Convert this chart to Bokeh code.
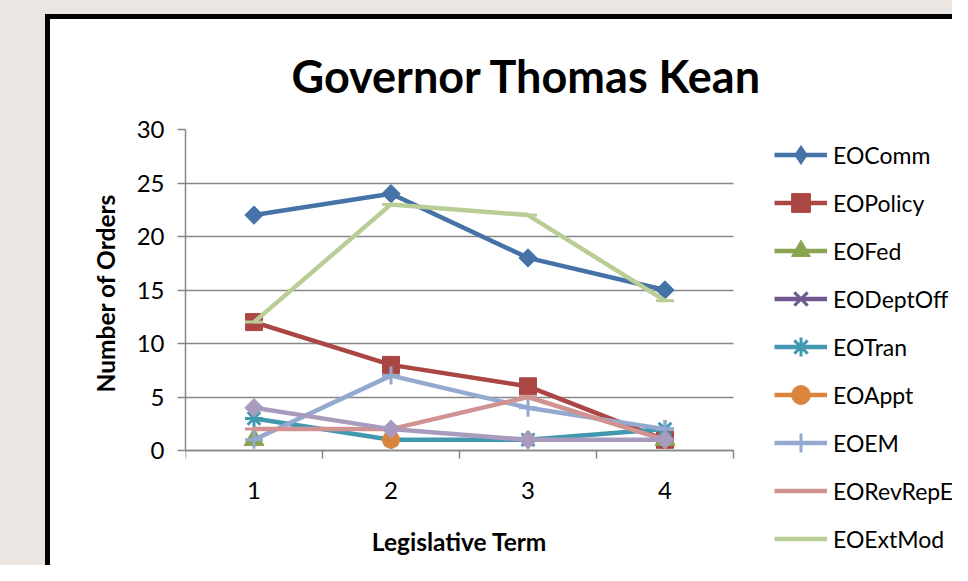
import math
from bokeh.plotting import figure
from bokeh.layouts import column, row
from bokeh.models import FixedTicker, Legend, LegendItem, Range1d, Spacer, Title
from bokeh.embed import file_html
from bokeh.resources import INLINE

nan = float("nan")

# ---- data ----
terms = [1, 2, 3, 4]
term_labels = ["1", "2", "3", "4"]
y_ticks = [0, 5, 10, 15, 20, 25, 30]

eo_comm = [22, 24, 18, 15]
eo_policy = [12, 8, 6, 1]
eo_fed = [1, nan, nan, 1]
eo_deptoff = [nan, nan, nan, nan]
eo_tran = [3, 1, 1, 2]
eo_appt = [nan, 1, nan, nan]
eo_em = [1, 7, 4, 2]
eo_revrepe = [2, 2, 5, 1]
eo_extmod = [12, 23, 22, 14]
eo_series10 = [4, 2, 1, 1]   # 10th series, its legend entry is cut off

series_names = ["EOComm", "EOPolicy", "EOFed", "EODeptOff", "EOTran",
                "EOAppt", "EOEM", "EORevRepE", "EOExtMod", None]
series_values = [eo_comm, eo_policy, eo_fed, eo_deptoff, eo_tran,
                 eo_appt, eo_em, eo_revrepe, eo_extmod, eo_series10]

# ---- styles ----
colors = ["#4572A7", "#AA4643", "#89A54E", "#71588F", "#4198AF",
          "#DB843D", "#93A9CF", "#D19392", "#B9CD96", "#A99BBD"]
markers = ["square", "square", "triangle", "x", "asterisk",
           "circle", "cross", "dash", "dash", "square"]
legend_markers = ["diamond", "square", "triangle", "x", "asterisk",
                  "circle", "cross", "dash", "dash", "diamond"]
msizes = [13, 17, 20, 17, 18, 17, 18, 18, 18, 13]
angles = [math.pi / 4, 0, 0, 0, 0, 0, 0, 0, 0, math.pi / 4]

FONT = "Lato"
GRID = "#878787"
BEIGE = "#ece6e2"

# canvas geometry (pixels): plot area 548 x 321, axis at bottom of it
W, H = 902, 546
LEFT, TOP = 135, 110
PLOT_W, PLOT_H = 548, 321
x_lo, x_hi = 0.5, 4.5
y_lo, y_hi = 0, 30
px_x = PLOT_W / (x_hi - x_lo)
px_y = PLOT_H / (y_hi - y_lo)
frame_w = W - LEFT
frame_h = H - TOP

fig = figure(width=W, height=H, output_backend="svg", toolbar_location=None,
             x_range=Range1d(x_lo, x_lo + frame_w / px_x),
             y_range=Range1d(y_hi - frame_h / px_y, y_hi),
             min_border_left=LEFT, min_border_right=0,
             min_border_top=TOP, min_border_bottom=0)
fig.border_fill_color = "white"
fig.background_fill_color = "white"
fig.outline_line_color = None

fig.title.text = "Governor Thomas Kean"
fig.title.text_font = FONT
fig.title.text_font_size = "45px"
fig.title.text_font_style = "bold"
fig.title.text_color = "black"
fig.title.align = "left"
fig.title.offset = 106
fig.title.standoff = 54

# grids
fig.xgrid.visible = False
fig.ygrid.ticker = FixedTicker(ticks=y_ticks)
fig.ygrid.grid_line_color = GRID
fig.ygrid.grid_line_width = 1.5
if hasattr(fig.ygrid[0], "cross_bounds"):
    fig.ygrid.cross_bounds = (x_lo, x_hi)

# y axis
fig.yaxis.ticker = FixedTicker(ticks=y_ticks)
fig.yaxis.bounds = (y_lo, y_hi)
fig.yaxis.axis_line_color = GRID
fig.yaxis.axis_line_width = 1.5
fig.yaxis.major_tick_line_color = GRID
fig.yaxis.major_tick_line_width = 1.5
fig.yaxis.major_tick_out = 8
fig.yaxis.major_tick_in = 0
fig.yaxis.minor_tick_out = 0
fig.yaxis.major_label_text_font = FONT
fig.yaxis.major_label_text_font_size = "24px"
fig.yaxis.major_label_text_color = "black"
fig.yaxis.major_label_standoff = 13

# y axis title, kept beside the 0-30 part of the axis
ytitle = Title(text="Number of Orders", align="left", offset=173,
               text_font=FONT, text_font_size="24.5px", text_font_style="bold",
               text_color="black", standoff=27)
fig.add_layout(ytitle, "left")

# x axis (kept at y = 0 so the plot area can hold the legend)
fig.xaxis.fixed_location = 0
fig.xaxis.bounds = (x_lo, x_hi)
fig.xaxis.ticker = FixedTicker(ticks=terms, minor_ticks=[0.5, 1.5, 2.5, 3.5, 4.5])
fig.xaxis.major_label_overrides = {t: l for t, l in zip(terms, term_labels)}
fig.xaxis.axis_line_color = GRID
fig.xaxis.axis_line_width = 1.5
fig.xaxis.major_tick_out = 0
fig.xaxis.major_tick_in = 0
fig.xaxis.minor_tick_out = 8
fig.xaxis.minor_tick_in = 0
fig.xaxis.minor_tick_line_color = GRID
fig.xaxis.minor_tick_line_width = 1.5
fig.xaxis.major_label_text_font = FONT
fig.xaxis.major_label_text_font_size = "24px"
fig.xaxis.major_label_text_color = "black"
fig.xaxis.major_label_standoff = 23
fig.xaxis.axis_label = "Legislative Term"
fig.xaxis.axis_label_text_font = FONT
fig.xaxis.axis_label_text_font_size = "24.5px"
fig.xaxis.axis_label_text_font_style = "bold"
fig.xaxis.axis_label_text_color = "black"
fig.xaxis.axis_label_standoff = 25

items = []
for name, vals, col, mk, lmk, ms, ang in zip(series_names, series_values, colors,
                                             markers, legend_markers, msizes, angles):
    lw = 3 if mk in ("x", "asterisk", "cross", "dash") else 1
    lr = fig.line(terms, vals, line_color=col, line_width=4.5)
    sr = fig.scatter(terms, vals, marker=mk, size=ms, angle=ang,
                     fill_color=col, line_color=col, line_width=lw)
    if name is not None:
        if lmk != mk:
            # legend-only swatch (no drawable point) so the legend shows a diamond
            kr = fig.scatter(x=[nan], y=[nan], marker=lmk, size=ms,
                             fill_color=col, line_color=col, line_width=lw)
            items.append(LegendItem(label=name, renderers=[lr, kr]))
        else:
            items.append(LegendItem(label=name, renderers=[lr, sr]))

legend = Legend(items=items, location=(PLOT_W + 41, 3),
                glyph_width=53, glyph_height=47, spacing=1,
                label_standoff=6, padding=0, margin=0,
                border_line_color=None, background_fill_alpha=0,
                label_text_font=FONT, label_text_font_size="23px",
                label_text_color="black")
fig.add_layout(legend)

black_top = Spacer(width=W + 5, height=5, styles={"background-color": "black"})
black_left = Spacer(width=5, height=H, styles={"background-color": "black"})
inner = column(black_top,
               row(black_left, fig, spacing=0, styles={"background-color": "white"}),
               spacing=0)
p = column(Spacer(width=W + 50, height=14),
           row(Spacer(width=45, height=H + 5), inner, spacing=0),
           spacing=0, styles={"background-color": BEIGE})

open("out.html", "w").write(file_html(p, INLINE))
